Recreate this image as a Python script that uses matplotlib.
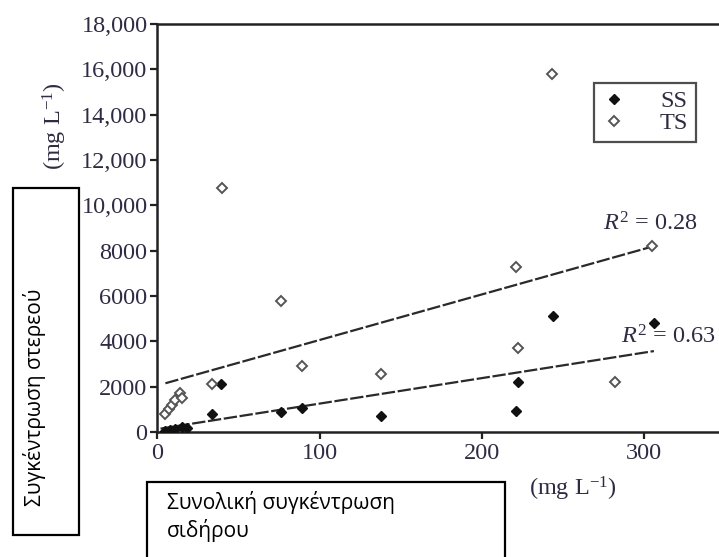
import matplotlib
matplotlib.use("Agg")
import matplotlib.pyplot as plt
from matplotlib.patches import Rectangle

plt.rcParams["mathtext.fontset"] = "custom"
plt.rcParams["mathtext.rm"] = "Liberation Serif"
plt.rcParams["mathtext.it"] = "Liberation Serif:italic"

# Iron concentration (mg/L) vs solids concentration (mg/L)
ss_x = [5, 8, 11, 15, 18, 34, 39, 76, 89, 138, 221, 222, 244, 306]
ss_y = [50, 100, 150, 200, 180, 800, 2100, 900, 1070, 700, 930, 2200, 5100, 4800]

ts_x = [5, 7, 9, 11, 14, 15, 34, 40, 76, 89, 138, 221, 222, 243, 282, 305]
ts_y = [800, 1000, 1200, 1400, 1700, 1500, 2100, 10750, 5780, 2900, 2550, 7300, 3700, 15800, 2200, 8200]

# Linear trend lines (end points)
ss_fit_x = [2, 306]
ss_fit_y = [150, 3570]
ts_fit_x = [5, 306]
ts_fit_y = [2150, 8200]

y_ticks = [0, 2000, 4000, 6000, 8000, 10000, 12000, 14000, 16000, 18000]
y_tick_labels = ["0", "2000", "4000", "6000", "8000", "10,000", "12,000", "14,000", "16,000", "18,000"]
x_ticks = [0, 100, 200, 300]
x_tick_labels = ["0", "100", "200", "300"]

serif = ["Liberation Serif", "DejaVu Serif"]
sans = ["Open Sans", "DejaVu Sans"]
txt_col = "#2e2b48"
fs = 17.5

fig = plt.figure(figsize=(7.19, 5.57), dpi=100)
W, H = 719, 557
ax = fig.add_axes([157.3 / W, 125 / H, 568 / W, 408 / H])
ax.set_xlim(0, 350)
ax.set_ylim(0, 18000)

for s in ["left", "top", "bottom"]:
    ax.spines[s].set_linewidth(1.8)
    ax.spines[s].set_color("#222222")
ax.spines["right"].set_visible(False)

ax.set_yticks(y_ticks)
ax.set_yticklabels(y_tick_labels, family=serif, fontsize=fs, color=txt_col)
ax.set_xticks(x_ticks)
ax.set_xticklabels(x_tick_labels, family=serif, fontsize=fs, color=txt_col)
ax.tick_params(direction="out", length=5, width=1.6, color="#222222", pad=2)
ax.tick_params(axis="x", pad=3)

line_style = dict(color="#2a2a2a", lw=1.6, ls=(0, (6, 1.2)))
ax.plot(ts_fit_x, ts_fit_y, **line_style, zorder=2)
ax.plot(ss_fit_x, ss_fit_y, **line_style, zorder=2)

ax.plot(ss_x, ss_y, ls="none", marker="D", ms=5, mfc="#111111", mec="#111111",
        label="SS", zorder=3)
ax.plot(ts_x, ts_y, ls="none", marker="D", ms=5, mfc="white", mec="#555555",
        mew=1.4, label="TS", zorder=3)

leg = ax.legend(loc="upper left", bbox_to_anchor=(437 / 568, 1 - 59 / 408),
                prop={"family": serif, "size": fs}, frameon=True, fancybox=False,
                handlelength=1.0, handletextpad=1.4, labelspacing=0.0,
                borderpad=0.3, borderaxespad=0)
leg.get_frame().set_edgecolor("#222222")
leg.get_frame().set_linewidth(1.6)
for t in leg.get_texts():
    t.set_color(txt_col)

fig.text(650 / W, 1 - 224 / H, r"$R^2$ = 0.28", family=serif, fontsize=fs,
         color=txt_col, ha="center", va="center")
fig.text(668 / W, 1 - 337 / H, r"$R^2$ = 0.63", family=serif, fontsize=fs,
         color=txt_col, ha="center", va="center")

fig.text(573 / W, 1 - 489 / H, r"(mg L$^{-1}$)", family=serif, fontsize=fs,
         color=txt_col, ha="center", va="center")
fig.text(55 / W, 1 - 126 / H, r"(mg L$^{-1}$)", family=serif, fontsize=fs,
         color=txt_col, ha="center", va="center", rotation=90)

# Text boxes with the Greek captions
fig.patches.append(Rectangle((12.7 / W, 1 - 535 / H), 66.3 / W, 347 / H,
                             transform=fig.transFigure, facecolor="white",
                             edgecolor="black", lw=1.6, zorder=5))
fig.text(35 / W, 1 - 397 / H, "Συγκέντρωση στερεού", family=sans, fontsize=15,
         color="black", ha="center", va="center", rotation=90, zorder=6)

fig.patches.append(Rectangle((147 / W, -0.02), 358 / W, (557 - 482) / H + 0.02,
                             transform=fig.transFigure, facecolor="white",
                             edgecolor="black", lw=1.6, zorder=5))
fig.text(167 / W, 1 - 503 / H, "Συνολική συγκέντρωση", family=sans, fontsize=15,
         color="black", ha="left", va="center", zorder=6)
fig.text(167 / W, 1 - 531 / H, "σιδήρου", family=sans, fontsize=15,
         color="black", ha="left", va="center", zorder=6)

fig.savefig("out.png", dpi=100)
